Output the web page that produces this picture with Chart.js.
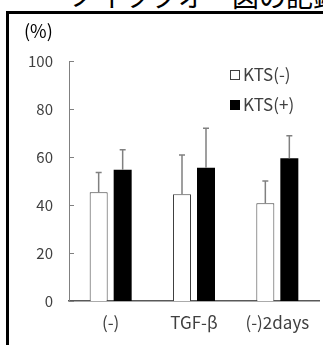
<!DOCTYPE html>
<html>
<head>
<meta charset="utf-8">
<script src="https://cdn.jsdelivr.net/npm/chart.js@4"></script>
<style>
  html, body { margin: 0; padding: 0; background: #fff; overflow: hidden; }
  #wrap { position: relative; width: 323px; height: 345px; overflow: hidden; }
  #frame { position: absolute; left: 6px; top: 11px; width: 400px; height: 400px; border-left: 3px solid #000; border-top: 3px solid #000; }
  #title { position: absolute; left: 70px; top: -24px; font: 27px "Noto Sans CJK JP"; white-space: nowrap; color: #000; }
  canvas { position: absolute; left: 0; top: 0; }
</style>
</head>
<body>
<div id="wrap">
  <div id="title">ノイツクオー図の記録</div>
  <div id="frame"></div>
  <canvas id="chart" width="323" height="345"></canvas>
</div>
<script>
// data
const categories = ['(-)', 'TGF-β', '(-)2days'];
const seriesNames = ['KTS(-)', 'KTS(+)'];
const ktsMinus = [45.3, 44.5, 40.7];
const ktsPlus = [54.7, 55.5, 59.5];
const ktsMinusErr = [8.2, 16.3, 9.3];
const ktsPlusErr = [8.3, 16.5, 9.4];
const yTicks = [0, 20, 40, 60, 80, 100];

const FONT = '"Noto Sans CJK JP", "Noto Sans", sans-serif';
const errors = [ktsMinusErr, ktsPlusErr];

// error bars, inward ticks, unit label and legend
const extras = {
    id: 'extras',
    afterDatasetsDraw(chart) {
        const ctx = chart.ctx;
        const y = chart.scales.y;
        ctx.save();
        // error bars (upward only)
        ctx.strokeStyle = '#808080';
        ctx.lineWidth = 1.5;
        chart.data.datasets.forEach((ds, di) => {
            chart.getDatasetMeta(di).data.forEach((bar, i) => {
                const top = y.getPixelForValue(ds.data[i] + errors[di][i]);
                ctx.beginPath();
                ctx.moveTo(bar.x, bar.y);
                ctx.lineTo(bar.x, top);
                ctx.moveTo(bar.x - 3, top);
                ctx.lineTo(bar.x + 3, top);
                ctx.stroke();
            });
        });
        // tick marks pointing into the plot
        ctx.strokeStyle = '#808080';
        ctx.lineWidth = 1;
        const left = chart.chartArea.left;
        yTicks.forEach(v => {
            const py = Math.round(y.getPixelForValue(v)) + 0.5;
            ctx.beginPath();
            ctx.moveTo(left, py);
            ctx.lineTo(left + 5, py);
            ctx.stroke();
        });
        // unit
        ctx.fillStyle = '#000';
        ctx.font = '18px ' + FONT;
        ctx.textAlign = 'left';
        ctx.textBaseline = 'middle';
        ctx.fillText('(%)', 24, 31);
        // legend
        ctx.font = '17px ' + FONT;
        seriesNames.forEach((name, i) => {
            const cy = 75 + i * 30;
            if (i === 0) {
                ctx.fillStyle = '#fff';
                ctx.fillRect(230.5, cy - 4.5, 9, 9);
                ctx.strokeStyle = '#404040';
                ctx.strokeRect(230.5, cy - 4.5, 9, 9);
            } else {
                ctx.fillStyle = '#000';
                ctx.fillRect(230, cy - 5, 10, 10);
            }
            ctx.fillStyle = '#404040';
            ctx.fillText(name, 243, cy);
        });
        ctx.restore();
    }
};

new Chart(document.getElementById('chart'), {
    type: 'bar',
    data: {
        labels: categories,
        datasets: [
            {
                label: seriesNames[0],
                data: ktsMinus,
                backgroundColor: '#ffffff',
                borderColor: '#404040',
                borderWidth: 1,
                categoryPercentage: 0.576,
                barPercentage: 0.75
            },
            {
                label: seriesNames[1],
                data: ktsPlus,
                backgroundColor: '#000000',
                borderColor: '#000000',
                borderWidth: 0,
                categoryPercentage: 0.576,
                barPercentage: 0.75
            }
        ]
    },
    options: {
        responsive: false,
        animation: false,
        layout: { padding: { top: 61, right: 4, left: 0, bottom: 0 } },
        plugins: {
            legend: { display: false },
            tooltip: { enabled: false }
        },
        scales: {
            x: {
                grid: { display: false, drawTicks: false },
                border: { display: true, color: '#595959', width: 1.5 },
                ticks: { color: '#404040', font: { family: FONT, size: 17 }, padding: 11 },
                afterFit(scale) { scale.height = 44; }
            },
            y: {
                min: 0,
                max: 100,
                grid: { display: false, drawTicks: false },
                border: { display: true, color: '#808080', width: 1 },
                ticks: {
                    stepSize: 20,
                    color: '#404040',
                    font: { family: FONT, size: 15 },
                    padding: 16
                },
                afterFit(scale) { scale.width = 69; }
            }
        }
    },
    plugins: [extras]
});
</script>
</body>
</html>
